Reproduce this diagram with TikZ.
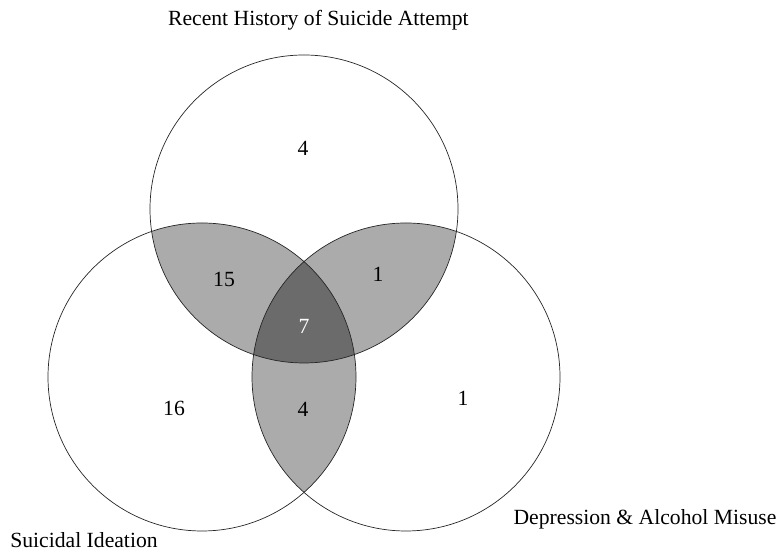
\documentclass[tikz,border=0pt]{standalone}
\usepackage{fontspec}
\setmainfont{Liberation Serif}
\usetikzlibrary{positioning}
\definecolor{pairgray}{gray}{0.67}
\definecolor{allgray}{gray}{0.42}
\tikzset{setline/.style={draw=black!85, line width=0.5pt},
  count/.style={font=\fontsize{15.4}{18}\selectfont},
  setlabel/.style={font=\fontsize{15.4}{18}\selectfont, anchor=base}}

\begin{document}
\begin{tikzpicture}
\useasboundingbox (0,0) rectangle (19.6,13.925);
\coordinate (att) at (7.6,8.7);
\coordinate (ide) at (5.05,4.5);
\coordinate (dep) at (10.15,4.5);
\def\rad{3.85}
% two sets
\begin{scope}
\clip (att) circle (\rad);
\fill[pairgray] (ide) circle (\rad);
\fill[pairgray] (dep) circle (\rad);
\end{scope}
\begin{scope}
\clip (ide) circle (\rad);
\fill[pairgray] (dep) circle (\rad);
\end{scope}
% all three sets
\begin{scope}
\clip (att) circle (\rad);
\clip (ide) circle (\rad);
\fill[allgray] (dep) circle (\rad);
\end{scope}
\foreach \c in {att,ide,dep} \draw[setline] (\c) circle (\rad);
% counts
\node[count] (attonly) at (7.575,10.225) {4};
\node[count] (attide) at (5.6,6.95) {15};
\node[count] (attdep) at (9.45,7.075) {1};
\node[count, text=white] (all) at (7.6,5.775) {7};
\node[count] (ideonly) at (4.35,3.725) {16};
\node[count] (idedep) at (7.575,3.7) {4};
\node[count] (deponly) at (11.575,3.975) {1};
% set names
\node[setlabel] (attname) at (7.96,13.275) {Recent History of Suicide Attempt};
\node[setlabel] (idename) at (2.1,0.225) {Suicidal Ideation};
\node[setlabel] (depname) at (16.125,0.8) {Depression \& Alcohol Misuse};
\end{tikzpicture}
\end{document}
